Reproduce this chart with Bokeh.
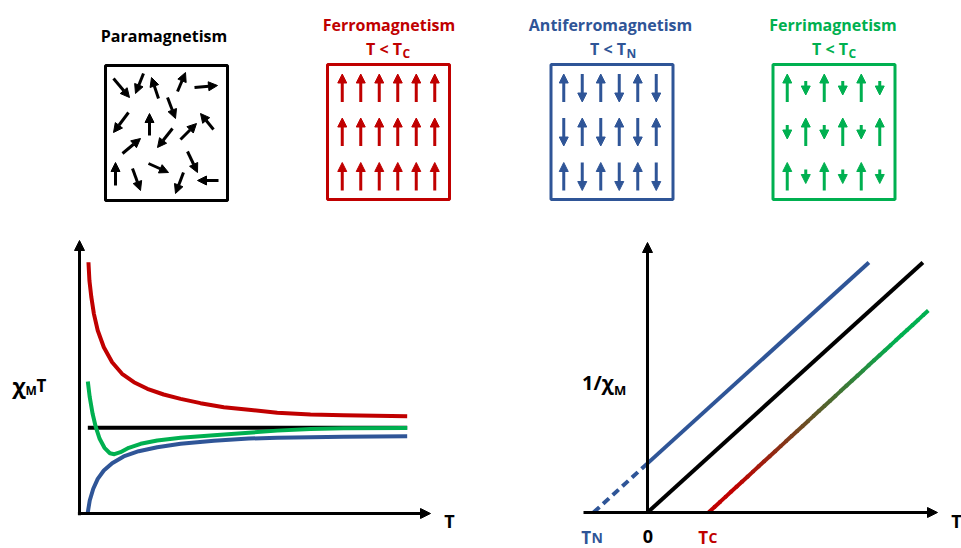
import numpy as np
from bokeh.plotting import figure
from bokeh.models import ColumnDataSource, Arrow, NormalHead, Range1d
from bokeh.layouts import column, row
from bokeh.embed import file_html
from bokeh.resources import INLINE
from bokeh.core.properties import value

# ---------------- data ----------------
RED, BLUE, GREEN, BLACK = "#C00000", "#2F5597", "#00B050", "#000000"

panel_titles = ["Paramagnetism", "Ferromagnetism", "Antiferromagnetism", "Ferrimagnetism"]
panel_colors = [BLACK, RED, BLUE, GREEN]
cond_text = ["", "T < T", "T < T", "T < T"]
cond_sub = ["", "C", "N", "C"]

# ordered spin lattices (sign = direction, magnitude = relative moment)
ferro_spins = [[1, 1, 1, 1, 1, 1],
               [1, 1, 1, 1, 1, 1],
               [1, 1, 1, 1, 1, 1]]
antiferro_spins = [[1, -1, 1, -1, 1, -1],
                   [-1, 1, -1, 1, -1, 1],
                   [1, -1, 1, -1, 1, -1]]
ferri_spins = [[1, -0.5, 1, -0.5, 1, -0.5],
               [-0.5, 1, -0.5, 1, -0.5, 1],
               [1, -0.5, 1, -0.5, 1, -0.5]]

# paramagnet: randomly oriented spins (tail -> head)
para_x0 = [113, 143, 158, 177, 194, 167, 128, 149, 213, 172, 180, 122, 187, 115, 132, 148, 183, 218]
para_y0 = [78, 73, 98, 91, 87, 97, 112, 135, 129, 128, 139, 153, 151, 185, 168, 163, 172, 180]
para_x1 = [129, 135, 151, 185, 217, 175, 113, 149, 200, 157, 196, 140, 197, 115, 140, 168, 175, 197]
para_y1 = [97, 93, 77, 72, 85, 118, 132, 113, 113, 147, 123, 138, 172, 162, 190, 172, 193, 180]

# chi_M*T versus T (schematic)
T_red = [0.28, 0.31, 0.37, 0.45, 0.57, 0.76, 1.02, 1.33, 1.70, 2.12, 2.63, 3.16, 3.78, 4.51, 5.29,
         6.18, 7.22, 8.25, 10.24]
chiT_red = [2.956, 2.741, 2.545, 2.349, 2.153, 1.956, 1.780, 1.644, 1.545, 1.467, 1.400, 1.349, 1.298,
            1.251, 1.220, 1.185, 1.165, 1.156, 1.145]
T_green = [0.26, 0.32, 0.41, 0.51, 0.63, 0.78, 0.95, 1.09, 1.28, 1.54, 1.91, 2.43, 3.16, 4.20, 5.29,
           6.18, 7.22, 8.25, 10.24]
chiT_green = [1.553, 1.369, 1.173, 1.015, 0.879, 0.773, 0.709, 0.698, 0.721, 0.773, 0.820, 0.859, 0.891,
              0.921, 0.950, 0.975, 0.995, 1.003, 1.005]
T_blue = [0.26, 0.32, 0.43, 0.57, 0.76, 1.02, 1.38, 1.85, 2.43, 3.16, 4.20, 5.29, 6.18, 7.22, 8.25, 10.24]
chiT_blue = [0.015, 0.153, 0.291, 0.408, 0.506, 0.592, 0.671, 0.733, 0.780, 0.820, 0.855, 0.882, 0.891,
             0.898, 0.904, 0.909]
T_black = [0.26, 10.24]
chiT_black = [1.008, 1.008]

# 1/chi_M versus T (Curie-Weiss lines)
T_N, T_C = -2.0, 2.26
Tinv_blue = [T_N, 0.0, 8.2]
inv_blue = [0.0, 1.82, 9.26]
Tinv_black = [0.0, 10.2]
inv_black = [0.0, 9.26]
Tinv_ferri = [T_C, 10.4]
inv_ferri = [0.0, 7.48]

FONT = value("Open Sans")


def base_fig(w, h, xr, yr):
    p = figure(width=w, height=h, x_range=Range1d(*xr), y_range=Range1d(*yr),
               output_backend="svg", toolbar_location=None,
               x_axis_type=None, y_axis_type=None, min_border=0,
               outline_line_color=None, background_fill_color="white",
               border_fill_color="white")
    p.grid.visible = False
    return p


def txt(p, x, y, s, color, size, align="center", baseline="alphabetic"):
    p.text(x=[x], y=[y], text=[s], text_color=color, text_font=FONT,
           text_font_style="bold", text_font_size=f"{size}px",
           text_align=align, text_baseline=baseline)


def arrows(p, x0, y0, x1, y1, color, width=3, head=9):
    src = ColumnDataSource(dict(x0=x0, y0=y0, x1=x1, y1=y1))
    p.add_layout(Arrow(x_start="x0", y_start="y0", x_end="x1", y_end="y1", source=src,
                       line_color=color, line_width=width,
                       end=NormalHead(size=head, fill_color=color, line_color=color, line_width=1)))


# ---------------- top panel ----------------
top = base_fig(961, 215, (0, 961), (215, 0))
box_cx = [166, 388, 611.5, 833.5]
box_cy = [132.5, 131.5, 131.5, 131.5]
title_cx = [163.5, 388.5, 610, 832.5]
title_base = [35, 24.5, 24.5, 24.5]
cond_anchor = [0, 401.5, 625.5, 847.5]

top.rect(x=box_cx, y=box_cy, width=122, height=135, fill_color=None,
         line_color=panel_colors, line_width=3)
for i in range(4):
    txt(top, title_cx[i], title_base[i], panel_titles[i], panel_colors[i], 16)
    if cond_text[i]:
        txt(top, cond_anchor[i], 48, cond_text[i], panel_colors[i], 16, align="right")
        txt(top, cond_anchor[i] + 0.5, 52.5, cond_sub[i], panel_colors[i], 12, align="left")

arrows(top, para_x0, para_y0, para_x1, para_y1, BLACK)

spin_cx = [388, 609.5, 833]
row_off = [-44, 0, 44.5]
for lattice, gx, gy, col in zip([ferro_spins, antiferro_spins, ferri_spins], spin_cx,
                                box_cy[1:], panel_colors[1:]):
    x0, y0, x1, y1 = [], [], [], []
    for r, rowvals in enumerate(lattice):
        for c, m in enumerate(rowvals):
            x = gx + (c - 2.5) * 18.5
            yc = gy + row_off[r]
            L = 28 if abs(m) == 1 else 14
            s = 1 if m > 0 else -1
            x0.append(x); x1.append(x)
            y0.append(yc + s * L / 2); y1.append(yc - s * L / 2)
    arrows(top, x0, y0, x1, y1, col)

# ---------------- left chart: chi_M T vs T ----------------
left = base_fig(480, 333, ((0 - 79) / 32, (480 - 79) / 32), ((513 - 548) / 85, (513 - 215) / 85))
lx = lambda px: (px - 79) / 32
ly = lambda py: (513 - py) / 85

left.add_layout(Arrow(x_start=0, y_start=-0.02, x_end=0, y_end=ly(240), line_width=3, line_color=BLACK,
                      end=NormalHead(size=10, fill_color=BLACK, line_color=BLACK)))
left.add_layout(Arrow(x_start=-0.05, y_start=0, x_end=lx(430), y_end=0, line_width=3, line_color=BLACK,
                      end=NormalHead(size=10, fill_color=BLACK, line_color=BLACK)))

left.line(T_black, chiT_black, line_color=BLACK, line_width=4)
left.line(T_blue, chiT_blue, line_color=BLUE, line_width=4, line_join="round")
left.line(T_green, chiT_green, line_color=GREEN, line_width=4, line_join="round")
left.line(T_red, chiT_red, line_color=RED, line_width=4, line_join="round")

txt(left, lx(449), ly(520), "T", BLACK, 18)
txt(left, lx(25), ly(384), "χ", BLACK, 22, align="right")
txt(left, lx(25), ly(390), "M", BLACK, 12, align="left")
txt(left, lx(36), ly(385), "T", BLACK, 17, align="left")

# ---------------- right chart: 1/chi_M vs T ----------------
right = base_fig(481, 333, ((480 - 647) / 27, (961 - 647) / 27), ((512 - 548) / 27, (512 - 215) / 27))
rx = lambda px: (px - 647) / 27
ry = lambda py: (512 - py) / 27

right.add_layout(Arrow(x_start=0, y_start=0, x_end=0, y_end=ry(242), line_width=3, line_color=BLACK,
                       end=NormalHead(size=10, fill_color=BLACK, line_color=BLACK)))
right.add_layout(Arrow(x_start=rx(583), y_start=0, x_end=rx(937), y_end=0, line_width=3, line_color=BLACK,
                       end=NormalHead(size=10, fill_color=BLACK, line_color=BLACK)))

right.line(Tinv_blue[:2], inv_blue[:2], line_color=BLUE, line_width=4, line_dash="8 5")
right.line(Tinv_blue[1:], inv_blue[1:], line_color=BLUE, line_width=4)
right.line(Tinv_black, inv_black, line_color=BLACK, line_width=4)

# red -> green colour gradient along the ferrimagnet line
red_rgb = np.array([192, 0, 0]); green_rgb = np.array([0, 176, 80])
nseg = 40
f = np.linspace(0, 1, nseg + 1)
xs0 = Tinv_ferri[0] + (Tinv_ferri[1] - Tinv_ferri[0]) * f[:-1]
ys0 = inv_ferri[0] + (inv_ferri[1] - inv_ferri[0]) * f[:-1]
f1 = np.minimum(f[1:] + 0.006, 1)
xs1 = Tinv_ferri[0] + (Tinv_ferri[1] - Tinv_ferri[0]) * f1
ys1 = inv_ferri[0] + (inv_ferri[1] - inv_ferri[0]) * f1
cols = []
for fm in (f[:-1] + f[1:]) / 2:
    t = np.clip((fm - 0.12) / (0.85 - 0.12), 0, 1)
    c = red_rgb + (green_rgb - red_rgb) * t
    cols.append("#%02x%02x%02x" % tuple(int(round(v)) for v in c))
right.segment(x0=xs0, y0=ys0, x1=xs1, y1=ys1, line_color=cols, line_width=4)

txt(right, rx(956), ry(520), "T", BLACK, 18)
txt(right, rx(613), ry(382), "1/χ", BLACK, 20, align="right")
txt(right, rx(613.5), ry(389), "M", BLACK, 13, align="left")
txt(right, rx(590.5), ry(537), "T", BLUE, 17, align="right")
txt(right, rx(591), ry(537), "N", BLUE, 14, align="left")
txt(right, rx(647.5), ry(536), "0", BLACK, 18)
txt(right, rx(707.5), ry(537), "T", RED, 17, align="right")
txt(right, rx(708), ry(537), "C", RED, 14, align="left")

layout = column(top, row(left, right, spacing=0), spacing=0)
open("out.html", "w").write(file_html(layout, INLINE))
